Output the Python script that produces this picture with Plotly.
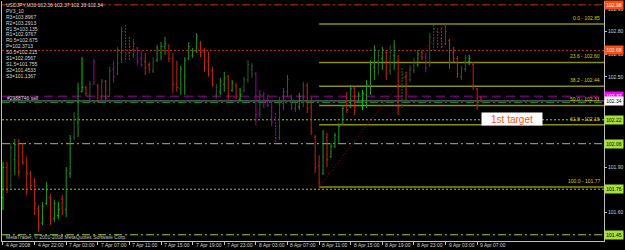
import plotly.graph_objects as go

# ---------------- data ----------------
symbol_header = "USDJPY,M30 102.36 102.37 102.33 102.34"
tick_labels = ["4 Apr 2008", "4 Apr 22:00", "7 Apr 03:00", "7 Apr 07:00", "7 Apr 11:00",
               "7 Apr 15:00", "7 Apr 19:00", "7 Apr 23:00", "8 Apr 03:00", "8 Apr 07:00",
               "8 Apr 11:00", "8 Apr 15:00", "8 Apr 19:00", "8 Apr 23:00", "9 Apr 03:00",
               "9 Apr 07:00"]
tick_bars = [0, 8, 16, 24, 32, 40, 48, 56, 64, 72, 80, 88, 96, 104, 112, 120]

highs = [101.935, 101.935, 102.061, 102.088, 102.088, 102.061, 101.969, 101.876, 101.83, 101.65,
         101.67, 101.803, 101.723, 101.684, 101.67, 101.717, 101.902, 102.114, 102.267, 102.46,
         102.63, 102.44, 102.472, 102.618, 102.452, 102.485, 102.479, 102.565, 102.605, 102.698,
         102.83, 102.843, 102.764, 102.75, 102.698, 102.678, 102.658, 102.598, 102.63, 102.71,
         102.73, 102.764, 102.71, 102.658, 102.605, 102.572, 102.63, 102.73, 102.69, 102.79,
         102.737, 102.69, 102.664, 102.565, 102.452, 102.492, 102.532, 102.512, 102.479, 102.46,
         102.426, 102.50, 102.61, 102.59, 102.532, 102.413, 102.40, 102.38, 102.346, 102.26,
         102.366, 102.426, 102.512, 102.38, 102.346, 102.393, 102.466, 102.46, 102.366, 102.114,
         101.98, 102.147, 102.128, 102.061, 102.128, 102.194, 102.313, 102.40, 102.446, 102.433,
         102.40, 102.413, 102.479, 102.61, 102.71, 102.678, 102.698, 102.678, 102.71, 102.744,
         102.645, 102.558, 102.532, 102.578, 102.625, 102.678, 102.678, 102.658, 102.79, 102.843,
         102.823, 102.823, 102.85, 102.75, 102.698, 102.638, 102.572, 102.645, 102.645, 102.598,
         102.426, 102.37]
lows = [101.617, 101.73, 101.763, 101.85, 101.836, 101.916, 101.717, 101.75, 101.584, 101.472,
        101.518, 101.65, 101.518, 101.538, 101.558, 101.584, 101.57, 101.83, 102.081, 102.10,
        102.40, 102.373, 102.326, 102.446, 102.326, 102.326, 102.346, 102.366, 102.46, 102.512,
        102.59, 102.598, 102.61, 102.625, 102.578, 102.565, 102.512, 102.525, 102.525, 102.598,
        102.61, 102.645, 102.598, 102.393, 102.40, 102.38, 102.38, 102.61, 102.625, 102.658,
        102.63, 102.532, 102.50, 102.433, 102.353, 102.38, 102.40, 102.346, 102.40, 102.353,
        102.34, 102.40, 102.46, 102.492, 102.18, 102.227, 102.293, 102.30, 102.174, 102.068,
        102.081, 102.28, 102.366, 102.28, 102.267, 102.28, 102.30, 102.26, 102.114, 101.863,
        101.77, 101.85, 101.902, 101.962, 102.028, 102.061, 102.18, 102.26, 102.293, 102.247,
        102.333, 102.28, 102.293, 102.38, 102.479, 102.512, 102.545, 102.479, 102.512, 102.545,
        102.247, 102.293, 102.346, 102.466, 102.525, 102.565, 102.61, 102.532, 102.565, 102.678,
        102.684, 102.684, 102.71, 102.552, 102.598, 102.492, 102.479, 102.532, 102.578, 102.413,
        102.28, 102.33]
opens = [101.70, 101.90, 101.78, 101.95, 102.05, 102.00, 101.93, 101.86, 101.80, 101.63,
         101.53, 101.66, 101.70, 101.56, 101.58, 101.69, 101.62, 101.86, 102.10, 102.20,
         102.40, 102.43, 102.38, 102.45, 102.44, 102.34, 102.47, 102.37, 102.55, 102.52,
         102.66, 102.80, 102.66, 102.68, 102.69, 102.62, 102.60, 102.58, 102.54, 102.61,
         102.66, 102.70, 102.71, 102.62, 102.45, 102.42, 102.50, 102.62, 102.64, 102.67,
         102.72, 102.66, 102.60, 102.54, 102.38, 102.40, 102.45, 102.50, 102.41, 102.44,
         102.35, 102.41, 102.48, 102.55, 102.52, 102.26, 102.38, 102.34, 102.33, 102.22,
         102.10, 102.32, 102.40, 102.36, 102.29, 102.30, 102.36, 102.44, 102.30, 102.10,
         101.91, 101.86, 102.10, 101.97, 102.04, 102.10, 102.19, 102.36, 102.30, 102.42,
         102.34, 102.30, 102.38, 102.44, 102.56, 102.60, 102.62, 102.66, 102.54, 102.64,
         102.60, 102.32, 102.50, 102.48, 102.54, 102.58, 102.66, 102.63, 102.58, 102.72,
         102.80, 102.75, 102.72, 102.74, 102.66, 102.62, 102.50, 102.55, 102.60, 102.58,
         102.42, 102.36]
closes = [101.90, 101.75, 102.03, 102.05, 101.87, 101.93, 101.86, 101.78, 101.66, 101.51,
          101.64, 101.78, 101.55, 101.66, 101.62, 101.60, 101.88, 102.09, 102.24, 102.42,
          102.43, 102.39, 102.45, 102.60, 102.34, 102.47, 102.36, 102.54, 102.50, 102.68,
          102.80, 102.65, 102.70, 102.72, 102.60, 102.58, 102.56, 102.55, 102.60, 102.69,
          102.70, 102.72, 102.62, 102.45, 102.43, 102.55, 102.61, 102.70, 102.67, 102.77,
          102.66, 102.56, 102.52, 102.45, 102.43, 102.47, 102.49, 102.38, 102.46, 102.37,
          102.38, 102.48, 102.58, 102.57, 102.25, 102.38, 102.33, 102.31, 102.20, 102.09,
          102.33, 102.40, 102.48, 102.30, 102.33, 102.37, 102.44, 102.29, 102.14, 101.90,
          101.80, 102.12, 101.95, 102.04, 102.11, 102.17, 102.29, 102.28, 102.42, 102.30,
          102.38, 102.39, 102.45, 102.58, 102.68, 102.64, 102.68, 102.52, 102.66, 102.70,
          102.30, 102.52, 102.40, 102.55, 102.60, 102.65, 102.63, 102.56, 102.76, 102.82,
          102.72, 102.70, 102.80, 102.60, 102.62, 102.52, 102.55, 102.62, 102.62, 102.44,
          102.31, 102.34]
# bar state code from the colouring indicator (G bright up, g up, d weak up, r down, m weak down, '.' = dotted)
states = ("G r d g r r r r r r g g r g G r g g d g "
          "G r d m r d r d m d d m. r. d m m r r d g "
          "g g r r r g g g g g r r r r d g g r g r "
          "G d d d m d m m m m. d d d m d g d r r r "
          "r g r g g g g r g r g G g g g d g r d g "
          "r d. r d d g r m d d. m. r. m r r r d d G r "
          "r r").split()

pivot_names = ["R3", "R2", "R1.5", "R1", "R0.5", "P", "S0.5", "S1", "S1.5", "S2", "S3"]
pivot_values = [103.8967, 103.2913, 103.135, 102.9767, 102.675, 102.3713, 102.215,
                102.0567, 101.755, 101.4533, 101.1367]
pivot_text = ["103.8967", "103.2913", "103.135", "102.9767", "102.675", "102.3713", "102.215",
              "102.0567", "101.755", "101.4533", "101.1367"]

bid_price = 102.34
order_price = 102.33
order_label = "#2988746 sell"

fib_levels = [0.0, 23.6, 38.2, 50.0, 61.8, 100.0]
fib_high_bar, fib_high = 112, 102.85
fib_low_bar, fib_low = 80, 101.77

y_ticks = [102.95, 102.80, 102.65, 102.50, 101.90, 101.60]

# ---------------- figure ----------------
W, H = 625, 250
ML, MR, MT, MB = 1, 19, 1, 9
PH = H - MT - MB
X_RANGE = [-0.25, 152.1]
Y_RANGE = [101.412, 103.002]

def py(pix):  # pixel row -> paper y
    return (H - MB - pix) / PH

def px(pix):  # pixel col -> paper x
    return (pix - ML) / (W - ML - MR)

bar_colors = {"G": "#00d000", "g": "#249624", "d": "#2f5a2f", "r": "#c4280a", "m": "#a000a0"}

fig = go.Figure()

# horizontal level lines (drawn first, under bars)
line_styles = {
    "R1": ("#c8320f", "8px,3px,2px,3px"),
    "R0.5": ("#c8320f", "2px,2px"),
    "P": ("#a000a0", "9px,5px"),
    "S0.5": ("#9acd32", "2px,2px"),
    "S1": ("#9acd32", "8px,3px,2px,3px"),
    "S1.5": ("#9acd32", "2px,2px"),
    "S2": ("#9acd32", "8px,3px,2px,3px"),
}
for name, val in zip(pivot_names, pivot_values):
    if name in line_styles:
        c, d = line_styles[name]
        fig.add_shape(type="line", xref="paper", yref="y", x0=0, x1=1, y0=val, y1=val,
                      line=dict(color=c, width=1, dash=d), layer="below")

fig.add_shape(type="line", xref="paper", yref="y", x0=0, x1=1, y0=bid_price, y1=bid_price,
              line=dict(color="#778899", width=1), layer="below")
fig.add_shape(type="line", xref="paper", yref="y", x0=0, x1=1, y0=order_price, y1=order_price,
              line=dict(color="#228b22", width=1, dash="8px,3px,2px,3px"), layer="below")

# fibonacci levels
for lvl in fib_levels:
    price = fib_high - (fib_high - fib_low) * lvl / 100.0
    fig.add_shape(type="line", xref="x", yref="y", x0=fib_low_bar, x1=X_RANGE[1],
                  y0=price, y1=price, line=dict(color="#8c8c10", width=1.5), layer="below")
    fig.add_annotation(xref="paper", yref="y", x=px(604), y=price, yshift=1,
                       text=f"{lvl:.1f} - {price:.2f}", showarrow=False,
                       xanchor="right", yanchor="bottom",
                       font=dict(size=5, color="#d2d200", family="Liberation Sans, Arial"))

# fib trend line
fig.add_trace(go.Scatter(x=[fib_low_bar, fib_high_bar], y=[fib_low, fib_high], mode="lines",
                         line=dict(color="#a01818", width=1, dash="1px,2px"), hoverinfo="skip"))

# bars
idx = list(range(len(highs)))
for code in sorted(set(states)):
    base = code[0]
    dotted = code.endswith(".")
    sel = [i for i, s in enumerate(states) if s == code]
    c = bar_colors[base]
    dash = "2px,1px" if dotted else "solid"
    fig.add_trace(go.Ohlc(
        x=[idx[i] for i in sel],
        open=[opens[i] for i in sel], high=[highs[i] for i in sel],
        low=[lows[i] for i in sel], close=[closes[i] for i in sel],
        increasing=dict(line=dict(color=c, width=1, dash=dash)),
        decreasing=dict(line=dict(color=c, width=1, dash=dash)),
        tickwidth=0.3, hoverinfo="skip"))

# target label
fig.add_annotation(xref="paper", yref="paper", x=px(482), y=py(112), xanchor="left", yanchor="top",
                   text="1st target", showarrow=False, bgcolor="#ffffff", width=60, height=12,
                   borderpad=0, font=dict(size=10, color="#ff5028", family="Liberation Sans, Arial"))

# top-left info text
txt_font = dict(size=5, color="#d8d8d8", family="Liberation Sans, Arial")
info_lines = [symbol_header, "PV3_10"] + [f"{n}={t}" for n, t in zip(pivot_names, pivot_text)]
for k, line in enumerate(info_lines):
    fig.add_annotation(xref="paper", yref="paper", x=px(3), y=py(5 + 5.9 * k), text=line,
                       showarrow=False, xanchor="left", yanchor="middle", font=txt_font)

fig.add_annotation(xref="paper", yref="paper", x=px(4), y=py(98), text=order_label,
                   showarrow=False, xanchor="left", yanchor="middle", font=txt_font)
fig.add_annotation(xref="paper", yref="paper", x=px(3), y=py(237),
                   text="MetaTrader, © 2001-2008 MetaQuotes Software Corp.",
                   showarrow=False, xanchor="left", yanchor="middle",
                   font=dict(size=5, color="#c0c0c0", family="Liberation Sans, Arial"))

# time axis labels
for b, lab in zip(tick_bars, tick_labels):
    fig.add_annotation(xref="x", yref="paper", x=b, y=py(245), text=lab, showarrow=False,
                       xanchor="left", yanchor="middle", xshift=1,
                       font=dict(size=5, color="#d0d0d0", family="Liberation Sans, Arial"))

# price labels on the right scale
box_defs = [("R1", "#ff4a10", "#ffffff"), ("R0.5", "#ff4a10", "#ffffff"), ("P", "#ff00ff", "#ffffff"),
            ("S0.5", "#a8e03a", "#000000"), ("S1", "#a8e03a", "#000000"),
            ("S1.5", "#a8e03a", "#000000"), ("S2", "#a8e03a", "#000000")]
for name, bg, fc in box_defs:
    val = pivot_values[pivot_names.index(name)]
    fig.add_annotation(xref="paper", yref="y", x=1, y=val, text=f"{round(val + 1e-9, 2):.2f}",
                       showarrow=False, xanchor="left", yanchor="middle", bgcolor=bg,
                       width=18, height=8, borderpad=0,
                       font=dict(size=5, color=fc, family="Liberation Sans, Arial"))
    if name == "P":
        fig.add_annotation(xref="paper", yref="y", x=1, y=bid_price, text=f"{bid_price:.2f}",
                           showarrow=False, xanchor="left", yanchor="middle", bgcolor="#ffffff",
                           width=18, height=8, borderpad=0,
                           font=dict(size=5, color="#000000", family="Liberation Sans, Arial"))

fig.update_layout(
    width=W, height=H, margin=dict(l=ML, r=MR, t=MT, b=MB),
    paper_bgcolor="#000000", plot_bgcolor="#000000", showlegend=False,
    xaxis=dict(range=X_RANGE, showgrid=False, zeroline=False, showline=True, linecolor="#c0c0c0",
               linewidth=1, ticks="outside", ticklen=3, tickcolor="#c0c0c0", tickvals=tick_bars,
               showticklabels=False, rangeslider=dict(visible=False), fixedrange=True),
    yaxis=dict(range=Y_RANGE, side="right", showgrid=False, zeroline=False, showline=True,
               mirror=True, linecolor="#c0c0c0", linewidth=1, ticks="outside", ticklen=2,
               tickcolor="#c0c0c0", tickvals=y_ticks, ticktext=[f"{v:.2f}" for v in y_ticks],
               tickfont=dict(size=5, color="#d0d0d0", family="Liberation Sans, Arial"),
               fixedrange=True),
)

fig.write_html("out.html")
